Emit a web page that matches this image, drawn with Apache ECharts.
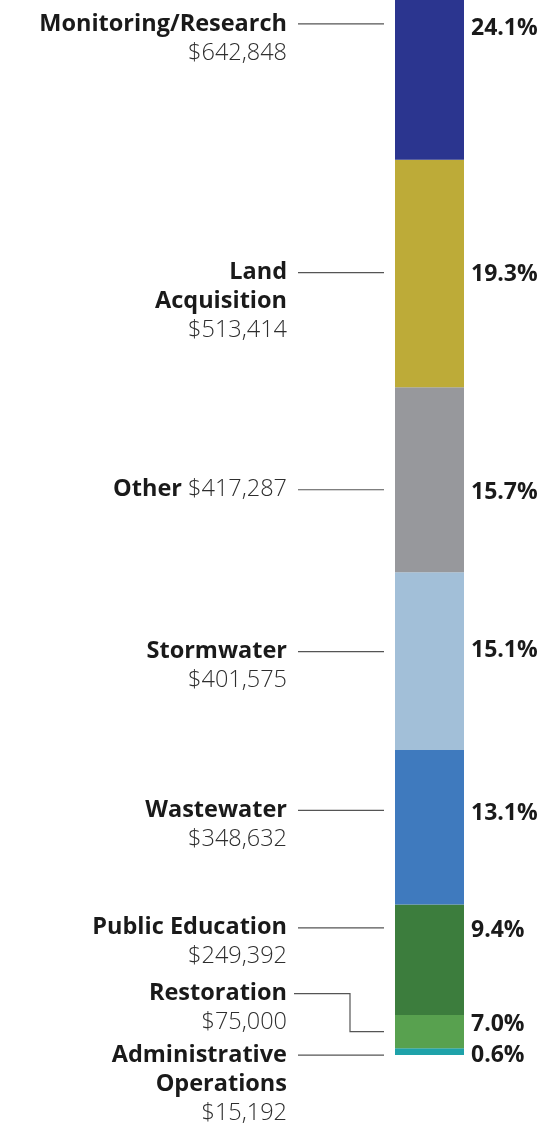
<!DOCTYPE html>
<html><head><meta charset="utf-8">
<script src="https://cdn.jsdelivr.net/npm/echarts@6/dist/echarts.min.js"></script>
<style>html,body{margin:0;padding:0;background:#fff}#c{width:546px;height:1127px}</style>
</head><body><div id="c"></div>
<script>
// ---- data (top to bottom of the stacked bar) ----
const categories = ['Monitoring/Research', 'Land Acquisition', 'Other', 'Stormwater', 'Wastewater', 'Public Education', 'Restoration', 'Administrative Operations'];
const nameLines = [['Monitoring/Research'], ['Land', 'Acquisition'], ['Other'], ['Stormwater'], ['Wastewater'], ['Public Education'], ['Restoration'], ['Administrative', 'Operations']];
const amounts = [642848, 513414, 417287, 401575, 348632, 249392, 75000, 15192];
const amountLabels = ['$642,848', '$513,414', '$417,287', '$401,575', '$348,632', '$249,392', '$75,000', '$15,192'];
const pctLabels = ['24.1%', '19.3%', '15.7%', '15.1%', '13.1%', '9.4%', '7.0%', '0.6%'];

// ---- styles / layout ----
const colors = ['#2b358f', '#bdab38', '#97989c', '#a2bfd8', '#3f7abe', '#3c7d3d', '#58a14f', '#1fa2a9'];
const FONT = "'Open Sans', 'Noto Sans', sans-serif";
const LH = 29;
const BAR_BOTTOM = 1055;      // px
const FULL_BAR_PX = 1180;     // full stacked height; the top of the bar runs off the page
// label anchor offsets (px) from each segment's centre
const nameOffset = [6.5, -1, 10, -9.5, -17, -32, -38, 3.5];
const pctOffset = [11, 1, 12.5, -10.5, -13.5, -29.5, -7.5, 4];
const inlineAmount = [false, false, true, false, false, false, false, false];

const total = amounts.reduce((a, b) => a + b, 0);
const visibleMax = total * BAR_BOTTOM / FULL_BAR_PX;
const chart = echarts.init(document.getElementById('c'), null, {renderer: 'canvas'});

const series = [];
for (let i = categories.length - 1; i >= 0; i--) {
  series.push({
    type: 'bar', stack: 'total', name: categories[i], data: [amounts[i]],
    barWidth: 69, itemStyle: {color: colors[i]}, silent: true, clip: true
  });
}

chart.setOption({
  animation: false,
  grid: {left: 395, width: 69, top: 0, bottom: 1127 - BAR_BOTTOM},
  xAxis: {type: 'category', data: [''], show: false},
  yAxis: {type: 'value', min: 0, max: visibleMax, show: false},
  series: series
});

// segment centres via the axis scale (linear extrapolation above the visible max)
const y0px = chart.convertToPixel({yAxisIndex: 0}, 0);
const ymaxPx = chart.convertToPixel({yAxisIndex: 0}, visibleMax);
const toPx = v => y0px + (ymaxPx - y0px) * v / visibleMax;
const centres = [];
{
  let cum = 0;
  for (let i = categories.length - 1; i >= 0; i--) {
    const a = toPx(cum);
    cum += amounts[i];
    const b = toPx(cum);
    centres[i] = (a + b) / 2;
  }
}

const rich = {
  b: {fontFamily: FONT, fontWeight: 'bold', fontSize: 23.5, fill: '#1a1a1a', lineHeight: LH},
  r: {fontFamily: FONT, fontWeight: 300, fontSize: 23.5, fill: '#2e2e2e', lineHeight: LH}
};

const graphics = [];
const textRight = 287, lineStart = 298, lineEnd = 384, pctX = 471;
categories.forEach((c, i) => {
  const ay = centres[i] + nameOffset[i];
  let txt;
  if (inlineAmount[i]) {
    txt = '{b|' + nameLines[i].join(' ') + '}{r| ' + amountLabels[i] + '}';
  } else {
    txt = nameLines[i].map(l => '{b|' + l + '}').join('\n') + '\n{r|' + amountLabels[i] + '}';
  }
  graphics.push({
    type: 'text', x: textRight, y: ay - LH / 2, silent: true,
    style: {text: txt, rich: rich, align: 'right', verticalAlign: 'top', fontFamily: FONT, fontSize: 23.5, lineHeight: LH}
  });
  let pts;
  if (i === 6) {
    const midX = 350;
    pts = [[lineStart - 4, ay], [midX, ay], [midX, centres[i]], [lineEnd, centres[i]]];
  } else {
    pts = [[lineStart, ay], [lineEnd, ay]];
  }
  graphics.push({
    type: 'polyline', silent: true, shape: {points: pts},
    style: {stroke: '#555', lineWidth: 1.2, fill: null}
  });
  graphics.push({
    type: 'text', x: pctX, y: centres[i] + pctOffset[i], silent: true,
    style: {text: pctLabels[i], align: 'left', verticalAlign: 'middle', fontFamily: FONT, fontWeight: 'bold', fontSize: 23, fill: '#1a1a1a'}
  });
});

chart.setOption({graphic: graphics});
</script>
</body></html>
